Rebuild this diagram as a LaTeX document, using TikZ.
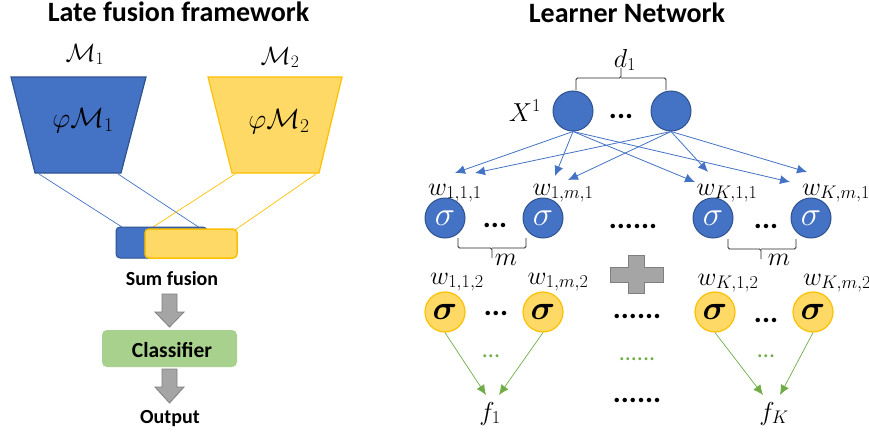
\RequirePackage{fix-cm}
\documentclass[tikz,border=0pt]{standalone}
\usepackage{amsmath,bm}
\usepackage{fontspec}
\setmainfont{Carlito}
\usetikzlibrary{arrows.meta}
\definecolor{bl}{HTML}{4472C4}
\definecolor{bld}{HTML}{2F528F}
\definecolor{yl}{HTML}{FFD966}
\definecolor{yld}{HTML}{FFC000}
\definecolor{gr}{HTML}{A9D18E}
\definecolor{grn}{HTML}{70AD47}
\definecolor{gy}{HTML}{A5A5A5}
\definecolor{gyd}{HTML}{7F7F7F}
\begin{document}
\begin{tikzpicture}[x=1pt,y=-1pt,
  title/.style={font=\fontsize{28}{32}\selectfont\bfseries, inner sep=0, anchor=base},
  lbl/.style={font=\fontsize{20}{24}\selectfont\bfseries, inner sep=0, anchor=base},
  mlab/.style={font=\fontsize{26}{30}\selectfont, inner sep=0, anchor=base},
  calab/.style={font=\fontsize{25}{28}\selectfont, inner sep=0, anchor=base},
  bnode/.style={circle, fill=bl, draw=bld, line width=1pt, minimum size=40pt, inner sep=0,
    font=\fontsize{34}{34}\selectfont, text=white},
  ynode/.style={circle, fill=yl, draw=yld, line width=1.2pt, minimum size=40pt, inner sep=0,
    font=\fontsize{34}{34}\selectfont},
  barr/.style={draw=bl, line width=0.8pt, -{Latex[length=10pt,width=9pt]}},
  garr/.style={draw=grn, line width=0.7pt, -{Latex[length=10pt,width=9pt]}},
  bdots/.style={font=\fontsize{30}{32}\selectfont\bfseries, inner sep=0, anchor=base},
  gdots/.style={font=\fontsize{24}{28}\selectfont, text=grn, inner sep=0, anchor=base},
  bracepath/.style={draw=black!85, line width=0.8pt, rounded corners=1.5pt},
  block/.style={fill=gy, draw=gyd, line width=0.8pt},
  bline/.style={draw=bl, line width=0.7pt},
  yline/.style={draw=yld, line width=0.7pt},
]
\useasboundingbox[fill=white] (0,0) rectangle (869,431);

% ---------------- Left: late fusion ----------------
\node[title] (t1) at (178.5,21) {Late fusion framework};
\node[calab] (m1) at (85,61) {$\mathcal{M}_1$};
\node[calab] (m2) at (280,64) {$\mathcal{M}_2$};

\coordinate (b1) at (11,77);  \coordinate (b2) at (146,77);
\coordinate (b3) at (121,173); \coordinate (b4) at (35,173);
\coordinate (y1) at (208,77); \coordinate (y2) at (342,77);
\coordinate (y3) at (319,173); \coordinate (y4) at (232,173);
\draw[fill=bl, draw=bld, line width=1.2pt] (b1) -- (b2) -- (b3) -- (b4) -- cycle;
\draw[fill=yl, draw=yld, line width=1.2pt] (y1) -- (y2) -- (y3) -- (y4) -- cycle;
\node[mlab, font=\fontsize{28}{30}\selectfont] (phi1) at (83,127) {$\varphi\mathcal{M}_1$};
\node[mlab, font=\fontsize{28}{30}\selectfont] (phi2) at (279,128) {$\varphi\mathcal{M}_2$};

\coordinate (bs1) at (39,174);  \coordinate (be1) at (122,227);
\coordinate (bs2) at (118,174); \coordinate (be2) at (200,228);
\coordinate (ys1) at (235,174); \coordinate (ye1) at (150,229);
\coordinate (ys2) at (316,174); \coordinate (ye2) at (235,230);
\draw[bline] (bs1) -- (be1);
\draw[bline] (bs2) -- (be2);
\draw[yline] (ys1) -- (ye1);
\draw[yline] (ys2) -- (ye2);

\node[rectangle, rounded corners=4pt, fill=bl, draw=bld, line width=1pt,
  minimum width=91pt, minimum height=31pt, inner sep=0] (sb) at (161.5,242.5) {};
\node[rectangle, rounded corners=4pt, fill=yl, draw=yld, line width=1.5pt,
  minimum width=92pt, minimum height=29pt, inner sep=0] (sy) at (191,243.5) {};

\node[lbl] (sum) at (172,285) {Sum fusion};
\draw[block] (162,294) -- (177,294) -- (177,312) -- (184,312) -- (169.5,327)
  -- (155,312) -- (162,312) -- cycle;
\node[rectangle, rounded corners=5pt, fill=gr, minimum width=135pt, minimum height=37pt,
  inner sep=0] (cls) at (169.5,348.5) {};
\node[font=\fontsize{21.5}{24}\selectfont\bfseries, inner sep=0, anchor=base] (clst) at (172,357) {Classifier};
\draw[block] (162,369) -- (177,369) -- (177,387) -- (184,387) -- (169.5,403)
  -- (155,387) -- (162,387) -- cycle;
\node[lbl] (out) at (170,423) {Output};

% ---------------- Right: learner network ----------------
\node[title] (t2) at (627,22) {Learner Network};
\node[mlab] (d1) at (625,67) {$d_1$};
\draw[bracepath] (576,90) -- (576,78) -- (621,78) -- (621,68);
\draw[bracepath] (621,78) -- (666,78) -- (666,90);
\node[mlab] (X) at (525,121) {$X^1$};
\node[bnode] (xa) at (573,111) {};
\node[bnode] (xb) at (671,111) {};
\node[bdots] (xd) at (621,118) {...};

\coordinate (a1) at (455,173); \coordinate (a2) at (475,173);
\coordinate (a3) at (555,176); \coordinate (a4) at (568,180);
\coordinate (a5) at (695,182); \coordinate (a6) at (708,172);
\coordinate (a7) at (790,182); \coordinate (a8) at (807,172);
\foreach \t in {a1,a3,a5,a7} \draw[barr] (xa.south) -- (\t);
\foreach \t in {a2,a4,a6,a8} \draw[barr] (xb.south) -- (\t);

% row 1
\node[mlab] (w111) at (455,195) {$w_{1,1,1}$};
\node[mlab] (w1m1) at (563,195) {$w_{1,m,1}$};
\node[mlab] (wK11) at (727,195) {$w_{K,1,1}$};
\node[mlab] (wKm1) at (836,195) {$w_{K,m,1}$};
\node[bnode] (s11) at (445,218) {$\sigma$};
\node[bnode] (s1m) at (543,218) {$\sigma$};
\node[bnode] (sK1) at (713,218) {$\sigma$};
\node[bnode] (sKm) at (811,218) {$\sigma$};
\node[bdots] (r1d1) at (495,227) {...};
\node[bdots] (r1d2) at (633,228) {......};
\node[bdots] (r1d3) at (766,228) {...};

\draw[bracepath] (458,238) -- (458,248) -- (492,248) -- (492,258);
\draw[bracepath] (492,248) -- (526,248) -- (526,238);
\node[mlab] (mA) at (506,265) {$m$};
\draw[bracepath] (728,239) -- (728,249) -- (761,249) -- (761,259);
\draw[bracepath] (761,249) -- (796,249) -- (796,239);
\node[mlab] (mB) at (779,265) {$m$};

% plus
\draw[block] (628,255) -- (644,255) -- (644,267) -- (663,267) -- (663,282) -- (644,282)
  -- (644,293) -- (628,293) -- (628,282) -- (610,282) -- (610,267) -- (628,267) -- cycle;

% row 2
\node[mlab] (w112) at (457,284) {$w_{1,1,2}$};
\node[mlab] (w1m2) at (558,284) {$w_{1,m,2}$};
\node[mlab] (wK12) at (728,285) {$w_{K,1,2}$};
\node[mlab] (wKm2) at (837,285) {$w_{K,m,2}$};
\node[ynode] (y11) at (445,312) {$\bm{\sigma}$};
\node[ynode] (y1m) at (543,312) {$\bm{\sigma}$};
\node[ynode] (yK1) at (715,312) {$\bm{\sigma}$};
\node[ynode] (yKm) at (813,312) {$\bm{\sigma}$};
\node[bdots] (r2d1) at (496,315) {...};
\node[bdots] (r2d2) at (637,318) {......};
\node[bdots] (r2d3) at (766,322) {...};

\node[gdots] (g1) at (491,357) {...};
\node[gdots] (g2) at (637,360) {......};
\node[gdots] (g3) at (766,357) {...};

\coordinate (fa) at (486,395); \coordinate (fb) at (499,395);
\coordinate (fc) at (763,395); \coordinate (fd) at (780,395);
\draw[garr] (y11.south) -- (fa);
\draw[garr] (y1m.south) -- (fb);
\draw[garr] (yK1.south) -- (fc);
\draw[garr] (yKm.south) -- (fd);

\node[mlab] (f1) at (490,420) {$f_1$};
\node[bdots] (fd2) at (637,402) {......};
\node[mlab] (fK) at (774,420) {$f_K$};
\end{tikzpicture}
\end{document}
